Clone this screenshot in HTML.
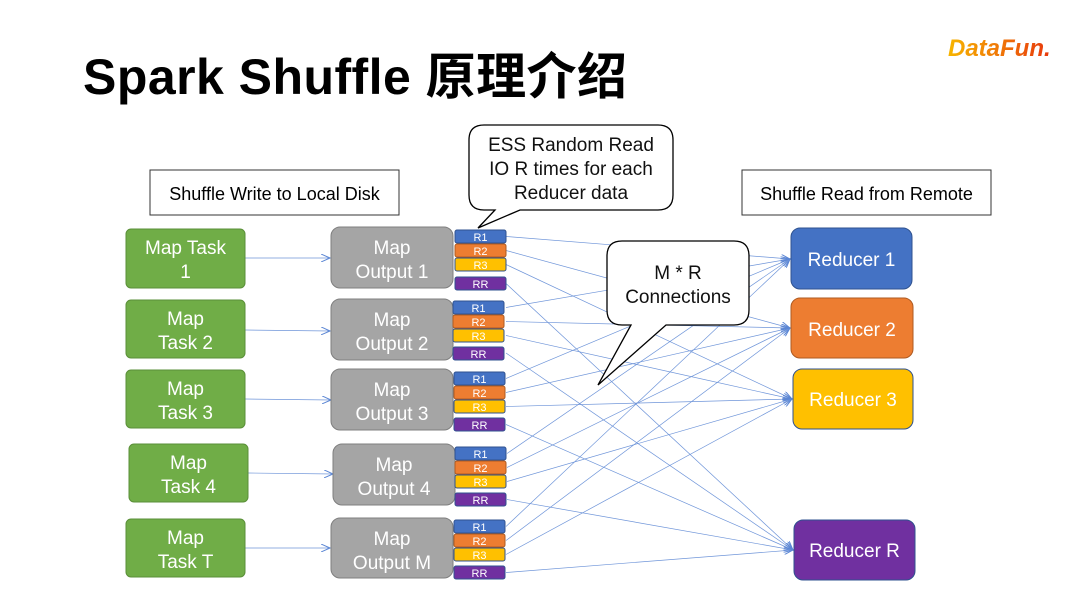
<!DOCTYPE html>
<html><head><meta charset="utf-8"><style>
body{margin:0;background:#fff;}
svg{display:block;font-family:"Liberation Sans","Noto Sans CJK SC",sans-serif;}
</style></head><body>
<svg width="1080" height="608" viewBox="0 0 1080 608" xmlns="http://www.w3.org/2000/svg">
<defs>
<marker id="a" markerWidth="10" markerHeight="8" refX="9" refY="4" orient="auto" markerUnits="userSpaceOnUse">
<path d="M0,0 L9,4 L0,8" fill="none" stroke="#5b86d4" stroke-width="1"/></marker>
<linearGradient id="g" x1="0" x2="1"><stop offset="0" stop-color="#F7B500"/><stop offset="1" stop-color="#E8380D"/></linearGradient>
</defs>
<text x="83" y="94" font-size="50" font-weight="bold" fill="#000" textLength="544">Spark Shuffle 原理介绍</text>
<text x="948" y="56" font-size="24" font-weight="bold" font-style="italic" fill="url(#g)">DataFun.</text>

<rect x="150" y="170" width="249" height="45" fill="#fff" stroke="#333"/>
<text x="274.5" y="200" font-size="18" text-anchor="middle">Shuffle Write to Local Disk</text>
<rect x="742" y="170" width="249" height="45" fill="#fff" stroke="#333"/>
<text x="866.5" y="200" font-size="18" text-anchor="middle">Shuffle Read from Remote</text>

<g stroke="#6f95d9" stroke-width="0.7" fill="none" marker-end="url(#a)">
<line x1="506" y1="236.5" x2="790" y2="259"/><line x1="506" y1="250.5" x2="790" y2="328"/><line x1="506" y1="264.5" x2="792" y2="399"/><line x1="506" y1="283.5" x2="793" y2="550"/>
<line x1="506" y1="307.5" x2="790" y2="259"/><line x1="506" y1="321.5" x2="790" y2="328"/><line x1="506" y1="335.5" x2="792" y2="399"/><line x1="506" y1="353" x2="793" y2="550"/>
<line x1="506" y1="378.5" x2="790" y2="259"/><line x1="506" y1="392.5" x2="790" y2="328"/><line x1="506" y1="406.5" x2="792" y2="399"/><line x1="506" y1="424.5" x2="793" y2="550"/>
<line x1="507" y1="453.5" x2="790" y2="259"/><line x1="507" y1="467.5" x2="790" y2="328"/><line x1="507" y1="481.5" x2="792" y2="399"/><line x1="507" y1="499.5" x2="793" y2="550"/>
<line x1="506" y1="526.5" x2="790" y2="259"/><line x1="506" y1="540.5" x2="790" y2="328"/><line x1="506" y1="554.5" x2="792" y2="399"/><line x1="506" y1="572.5" x2="793" y2="550"/>
<line x1="245" y1="258" x2="330" y2="258"/><line x1="245" y1="330" x2="330" y2="331"/><line x1="245" y1="399" x2="331" y2="400"/><line x1="248" y1="473" x2="333" y2="474"/><line x1="245" y1="548" x2="330" y2="548"/>
</g>

<g font-size="19" fill="#fff" text-anchor="middle">
<rect x="126" y="229" width="119" height="59" rx="5" fill="#70AD47" stroke="#5a8f38"/><text x="185.5" y="254">Map Task</text><text x="185.5" y="278">1</text>
<rect x="126" y="300" width="119" height="58" rx="5" fill="#70AD47" stroke="#5a8f38"/><text x="185.5" y="325">Map</text><text x="185.5" y="349">Task 2</text>
<rect x="126" y="370" width="119" height="58" rx="5" fill="#70AD47" stroke="#5a8f38"/><text x="185.5" y="395">Map</text><text x="185.5" y="419">Task 3</text>
<rect x="129" y="444" width="119" height="58" rx="5" fill="#70AD47" stroke="#5a8f38"/><text x="188.5" y="469">Map</text><text x="188.5" y="493">Task 4</text>
<rect x="126" y="519" width="119" height="58" rx="5" fill="#70AD47" stroke="#5a8f38"/><text x="185.5" y="544">Map</text><text x="185.5" y="568">Task T</text>

<rect x="331" y="227" width="122" height="61" rx="9" fill="#A5A5A5" stroke="#7f7f7f"/><text x="392" y="254">Map</text><text x="392" y="278">Output 1</text>
<rect x="331" y="299" width="122" height="61" rx="9" fill="#A5A5A5" stroke="#7f7f7f"/><text x="392" y="326">Map</text><text x="392" y="350">Output 2</text>
<rect x="331" y="369" width="122" height="61" rx="9" fill="#A5A5A5" stroke="#7f7f7f"/><text x="392" y="396">Map</text><text x="392" y="420">Output 3</text>
<rect x="333" y="444" width="122" height="61" rx="9" fill="#A5A5A5" stroke="#7f7f7f"/><text x="394" y="471">Map</text><text x="394" y="495">Output 4</text>
<rect x="331" y="518" width="122" height="60" rx="9" fill="#A5A5A5" stroke="#7f7f7f"/><text x="392" y="545">Map</text><text x="392" y="569">Output M</text>

<rect x="791" y="228" width="121" height="61" rx="9" fill="#4472C4" stroke="#2f528f"/><text x="851.5" y="266">Reducer 1</text>
<rect x="791" y="298" width="122" height="60" rx="9" fill="#ED7D31" stroke="#ae5a21"/><text x="852" y="336">Reducer 2</text>
<rect x="793" y="369" width="120" height="60" rx="9" fill="#FFC000" stroke="#2f528f"/><text x="853" y="406">Reducer 3</text>
<rect x="794" y="520" width="121" height="60" rx="9" fill="#7030A0" stroke="#2f528f"/><text x="854.5" y="557">Reducer R</text>
</g>

<g font-size="11" fill="#fff" text-anchor="middle" stroke-width="1">
<g transform="translate(455,230)">
<rect width="51" height="13" rx="2" fill="#4472C4" stroke="#2f528f"/><text x="25.5" y="11">R1</text>
<rect y="14" width="51" height="13" rx="2" fill="#ED7D31" stroke="#ae5a21"/><text x="25.5" y="25">R2</text>
<rect y="28" width="51" height="13" rx="2" fill="#FFC000" stroke="#2f528f"/><text x="25.5" y="39">R3</text>
<rect y="47" width="51" height="13" rx="2" fill="#7030A0" stroke="#2f528f"/><text x="25.5" y="58">RR</text></g>
<g transform="translate(453,301)">
<rect width="51" height="13" rx="2" fill="#4472C4" stroke="#2f528f"/><text x="25.5" y="11">R1</text>
<rect y="14" width="51" height="13" rx="2" fill="#ED7D31" stroke="#ae5a21"/><text x="25.5" y="25">R2</text>
<rect y="28" width="51" height="13" rx="2" fill="#FFC000" stroke="#2f528f"/><text x="25.5" y="39">R3</text>
<rect y="46" width="51" height="13" rx="2" fill="#7030A0" stroke="#2f528f"/><text x="25.5" y="57">RR</text></g>
<g transform="translate(454,372)">
<rect width="51" height="13" rx="2" fill="#4472C4" stroke="#2f528f"/><text x="25.5" y="11">R1</text>
<rect y="14" width="51" height="13" rx="2" fill="#ED7D31" stroke="#ae5a21"/><text x="25.5" y="25">R2</text>
<rect y="28" width="51" height="13" rx="2" fill="#FFC000" stroke="#2f528f"/><text x="25.5" y="39">R3</text>
<rect y="46" width="51" height="13" rx="2" fill="#7030A0" stroke="#2f528f"/><text x="25.5" y="57">RR</text></g>
<g transform="translate(455,447)">
<rect width="51" height="13" rx="2" fill="#4472C4" stroke="#2f528f"/><text x="25.5" y="11">R1</text>
<rect y="14" width="51" height="13" rx="2" fill="#ED7D31" stroke="#ae5a21"/><text x="25.5" y="25">R2</text>
<rect y="28" width="51" height="13" rx="2" fill="#FFC000" stroke="#2f528f"/><text x="25.5" y="39">R3</text>
<rect y="46" width="51" height="13" rx="2" fill="#7030A0" stroke="#2f528f"/><text x="25.5" y="57">RR</text></g>
<g transform="translate(454,520)">
<rect width="51" height="13" rx="2" fill="#4472C4" stroke="#2f528f"/><text x="25.5" y="11">R1</text>
<rect y="14" width="51" height="13" rx="2" fill="#ED7D31" stroke="#ae5a21"/><text x="25.5" y="25">R2</text>
<rect y="28" width="51" height="13" rx="2" fill="#FFC000" stroke="#2f528f"/><text x="25.5" y="39">R3</text>
<rect y="46" width="51" height="13" rx="2" fill="#7030A0" stroke="#2f528f"/><text x="25.5" y="57">RR</text></g>
</g>

<path d="M484,125 H658 Q673,125 673,140 V195 Q673,210 658,210 H520 L478,228 L495,210 H484 Q469,210 469,195 V140 Q469,125 484,125 Z" fill="#fff" stroke="#000" stroke-width="1.3"/>
<g font-size="19" text-anchor="middle" fill="#111">
<text x="571" y="151">ESS Random Read</text><text x="571" y="175">IO R times for each</text><text x="571" y="199">Reducer data</text>
</g>
<path d="M622,241 H734 Q749,241 749,256 V310 Q749,325 734,325 H666 L598,385 L631,325 H622 Q607,325 607,310 V256 Q607,241 622,241 Z" fill="#fff" stroke="#000" stroke-width="1.3"/>
<g font-size="19" text-anchor="middle" fill="#111">
<text x="678" y="279">M * R</text><text x="678" y="303">Connections</text>
</g>
</svg>
</body></html>
